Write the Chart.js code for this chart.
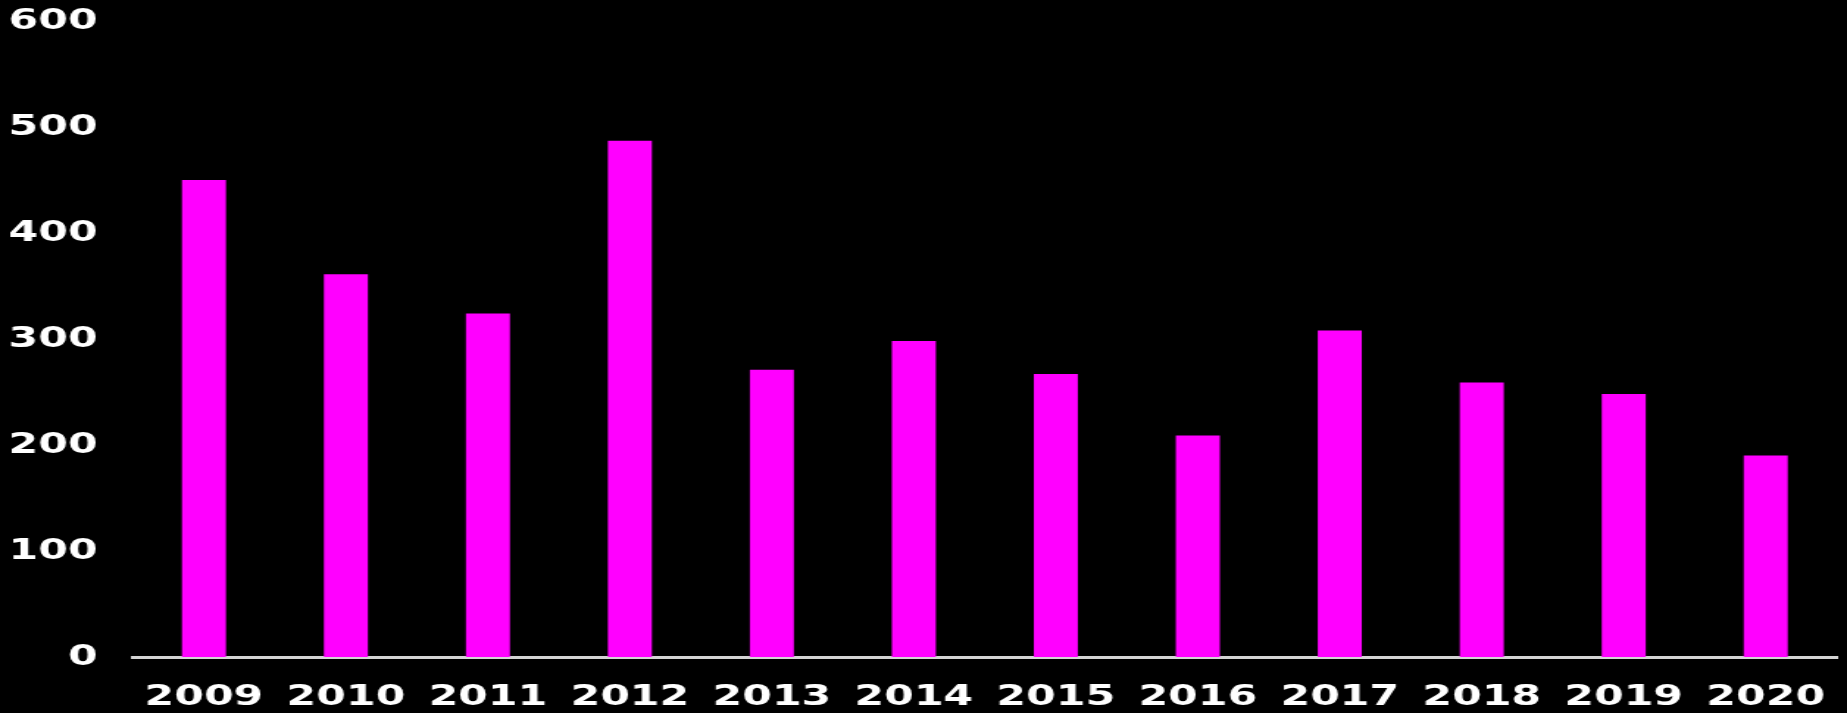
<!DOCTYPE html>
<html>
<head>
<meta charset="utf-8">
<script src="https://cdn.jsdelivr.net/npm/chart.js@4/dist/chart.umd.min.js"></script>
<style>
  html, body { margin: 0; padding: 0; background: #000; overflow: hidden; }
  canvas#c { display: block; width: 1847px !important; height: 713px !important; }
</style>
</head>
<body>
<canvas id="c" width="1256" height="713"></canvas>
<script>
const categories = ['2009','2010','2011','2012','2013','2014','2015','2016','2017','2018','2019','2020'];
const values = [450, 361, 324, 487, 271, 298, 267, 209, 308, 259, 248, 190];
const yTicks = [0, 100, 200, 300, 400, 500, 600];

Chart.defaults.font.family = "'DejaVu Sans', sans-serif";
Chart.defaults.font.weight = 'bold';
Chart.defaults.font.size = 29;
Chart.defaults.font.lineHeight = 1;
Chart.defaults.color = '#ffffff';

new Chart(document.getElementById('c'), {
  type: 'bar',
  data: {
    labels: categories,
    datasets: [{
      data: values,
      backgroundColor: '#ff00ff',
      borderWidth: 0,
      categoryPercentage: 1,
      barPercentage: 0.31
    }]
  },
  options: {
    responsive: false,
    devicePixelRatio: 1,
    animation: false,
    layout: { padding: { left: 6, right: 7, top: 21, bottom: 1 } },
    plugins: { legend: { display: false }, tooltip: { enabled: false } },
    scales: {
      x: {
        grid: { display: false, drawTicks: false },
        border: { display: true, color: '#d4d4d4', width: 3 },
        ticks: { color: '#ffffff', padding: 26, maxRotation: 0, autoSkip: false },
        afterFit: (axis) => { axis.paddingLeft = 0; axis.paddingRight = 0; axis.height = 55; }
      },
      y: {
        min: yTicks[0],
        max: yTicks[yTicks.length - 1],
        afterBuildTicks: (axis) => { axis.ticks = yTicks.map(v => ({ value: v })); },
        grid: { display: false, drawTicks: false },
        border: { display: false },
        ticks: { color: '#ffffff', padding: 24 },
        afterFit: (axis) => { axis.paddingTop = 0; axis.paddingBottom = 0; axis.width = 84.4; }
      }
    }
  }
});
</script>
</body>
</html>
